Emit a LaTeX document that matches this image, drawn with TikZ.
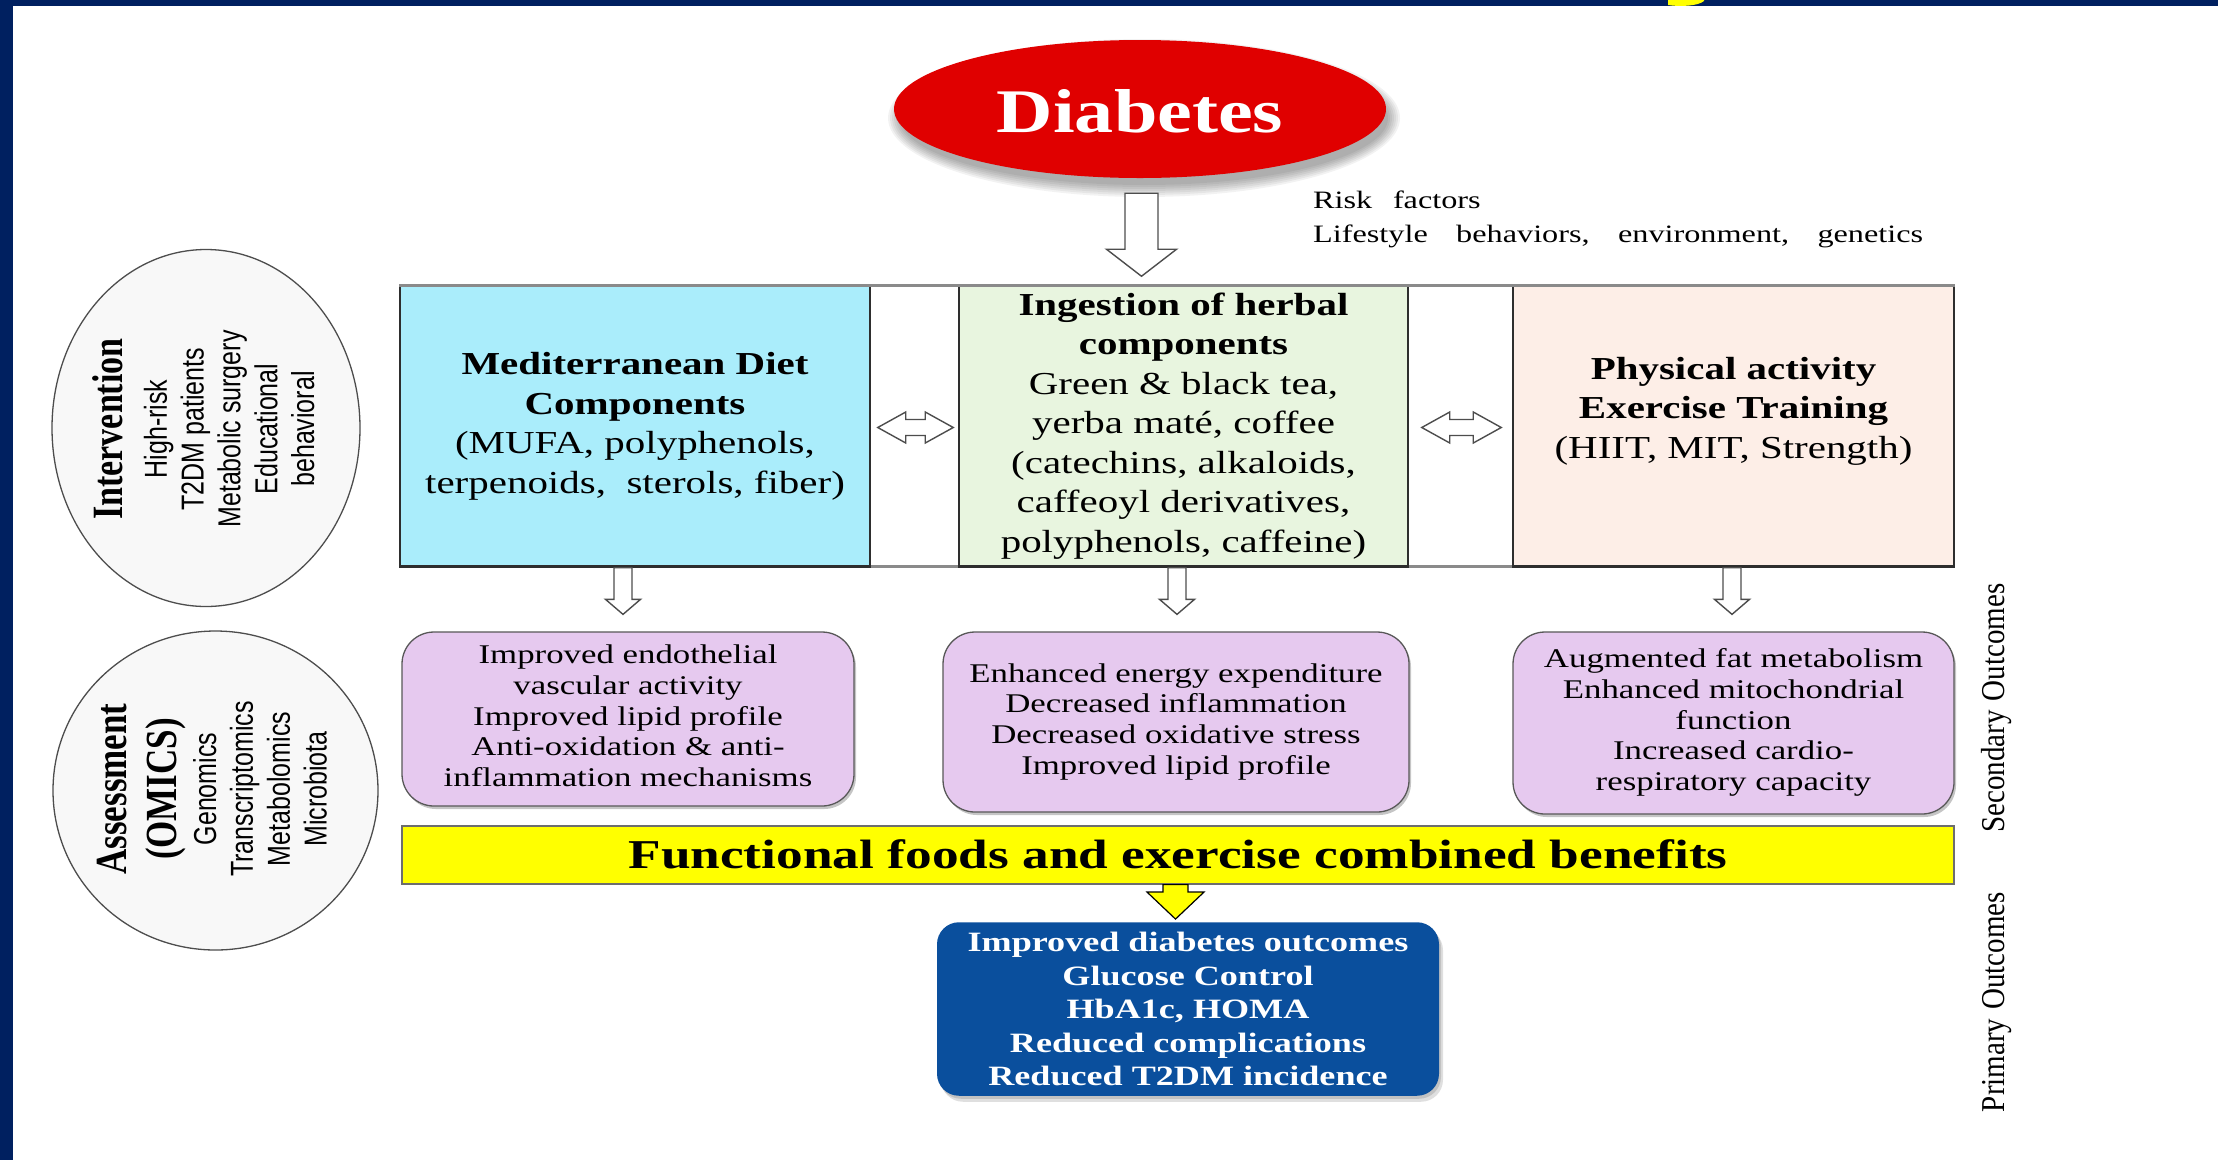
\documentclass[tikz,border=0pt]{standalone}
\usepackage{fontspec}
\newfontfamily\sansf{Liberation Sans}
\newfontfamily\timesf{Liberation Serif}
\newfontfamily\pala{Liberation Serif}
\usetikzlibrary{calc,shapes.geometric,shadows}

\definecolor{navy}{HTML}{002060}
\definecolor{titleyellow}{HTML}{FFFF00}
\definecolor{diabred}{HTML}{E00000}
\definecolor{medblue}{HTML}{AAEDFB}
\definecolor{herbgreen}{HTML}{E8F5DF}
\definecolor{physpeach}{HTML}{FDEEE7}
\definecolor{lilac}{HTML}{E6C9EF}
\definecolor{outblue}{HTML}{0A4F9D}
\definecolor{boxline}{HTML}{2E2E2E}
\definecolor{framegray}{HTML}{8A8A8A}
\definecolor{ovalfill}{HTML}{F8F8F8}

% text blocks widened (or heightened, for turned text) by a fixed factor
\newcommand\hstretch[2][1.28]{\scalebox{#1}[1]{\begin{tabular}{@{}c@{}}#2\end{tabular}}}
\newcommand\vstretch[2][1.27]{\scalebox{1}[#1]{\begin{tabular}{@{}c@{}}#2\end{tabular}}}

% block arrow pointing down: style, top point, tip point, half shaft, half head, head length
\newcommand\blockdown[6][hollowarrow]{%
  \draw[#1] let \p1=(#2), \p2=(#3) in
    (\x1-#4,\y1) -- (\x1+#4,\y1) -- (\x1+#4,\y2+#6) -- (\x1+#5,\y2+#6)
    -- (\x1,\y2) -- (\x1-#5,\y2+#6) -- (\x1-#4,\y2+#6) -- cycle;}

% block arrow with heads at both ends, left tip to right tip
\newcommand\blockboth[2]{%
  \draw[hollowarrow] let \p1=(#1), \p2=(#2) in
    (\x1,\y1) -- (\x1+28pt,\y1+15.5pt) -- (\x1+28pt,\y1+8pt) -- (\x2-28pt,\y1+8pt)
    -- (\x2-28pt,\y1+15.5pt) -- (\x2,\y1) -- (\x2-28pt,\y1-15.5pt) -- (\x2-28pt,\y1-8pt)
    -- (\x1+28pt,\y1-8pt) -- (\x1+28pt,\y1-15.5pt) -- cycle;}

\begin{document}
\begin{tikzpicture}[x=1pt,y=-1pt,
  hollowarrow/.style={draw=boxline!85, fill=white, line width=1.4pt, line join=miter},
  yellowarrow/.style={draw=black, fill=titleyellow, line width=1.2pt, line join=miter},
  topbox/.style={rectangle, draw=boxline, line width=1.5pt, minimum height=280pt, inner sep=0pt,
    font=\pala\fontsize{32}{39.5}\selectfont},
  lilacbox/.style={rectangle, rounded corners=32pt, draw=boxline!80, line width=1.3pt, fill=lilac,
    inner sep=0pt, font=\pala\fontsize{27}{30.6}\selectfont,
    drop shadow={shadow xshift=2pt, shadow yshift=-3pt, opacity=0.45}},
  oval/.style={ellipse, draw=boxline!85, line width=1.3pt, fill=ovalfill, inner sep=0pt},
  ovaltext/.style={rotate=90, inner sep=0pt, font=\sansf\fontsize{25}{29}\selectfont},
  sidelabel/.style={rotate=90, inner sep=0pt, font=\timesf\fontsize{29}{32}\selectfont},
]
\useasboundingbox (0,0) rectangle (2218,1160);
\fill[white] (0,0) rectangle (2218,1160);

% slide frame
\fill[navy] (0,0) rectangle (2218,6);
\fill[navy] (0,0) rectangle (13,1160);
\fill[titleyellow] (1668,0) -- (1668,5) .. controls (1680,7) and (1698,6) .. (1704,1) -- (1704,0) -- cycle;

% Diabetes ellipse with soft shadow
\foreach \k [evaluate=\k as \rx using 244+2*\k, evaluate=\k as \ry using 67+2*\k] in {0,...,6}
  \fill[black, opacity=0.05] (1144,118) ellipse [x radius=\rx pt, y radius=\ry pt];
\node[ellipse, fill=diabred, minimum width=492pt, minimum height=138pt, inner sep=0pt,
  text height=33pt, text depth=0pt,
  text=white, font=\pala\bfseries\fontsize{62}{68}\selectfont] (diab) at (1140,109) {\hstretch[1.26]{Diabetes}};

% risk factors note
\node[anchor=base west, inner sep=0pt, font=\pala\fontsize{25}{34}\selectfont] (risk) at (1313,208)
  {\scalebox{1.29}[1]{\begin{tabular}[t]{@{}l@{}}Risk\hspace{16pt}factors\\
   Lifestyle\hspace{22pt}behaviors,\hspace{22pt}environment,\hspace{22pt}genetics\end{tabular}}};

% three intervention boxes
\node[topbox, fill=medblue, minimum width=470pt] (med) at (635,426)
  {\hstretch{\textbf{Mediterranean Diet}\\ \textbf{Components}\\ (MUFA, polyphenols,\\ terpenoids,\ \ sterols, fiber)}};
\node[topbox, fill=herbgreen, minimum width=449pt] (herb) at (1183.5,426)
  {\hstretch{\textbf{Ingestion of herbal}\\ \textbf{components}\\ Green \& black tea,\\ yerba maté, coffee\\
   (catechins, alkaloids,\\ caffeoyl derivatives,\\ polyphenols, caffeine)}};
\node[topbox, fill=physpeach, minimum width=441pt] (phys) at (1733.5,426) {};
\node[inner sep=0pt, font=\pala\fontsize{32}{39.5}\selectfont] (phystext) at ($(phys.center)+(0,-15)$)
  {\hstretch{\textbf{Physical activity}\\ \textbf{Exercise Training}\\ (HIIT, MIT, Strength)}};

% grey frame joining the three boxes
\draw[framegray, line width=3pt] (med.north west) -- (phys.north east);
\draw[framegray, line width=3pt] (med.south east) -- (herb.south west);
\draw[framegray, line width=3pt] (herb.south east) -- (phys.south west);
\draw[boxline, line width=3pt] (med.south west) -- (med.south east);
\draw[boxline, line width=3pt] (herb.south west) -- (herb.south east);
\draw[boxline, line width=3pt] (phys.south west) -- (phys.south east);

% two-way arrows between the boxes
\blockboth{$(med.east)+(7,1.5)$}{$(herb.west)+(-5,1.5)$}
\blockboth{$(herb.east)+(13,1.5)$}{$(phys.west)+(-11,1.5)$}

% secondary outcome boxes
\node[lilacbox, minimum width=452pt, minimum height=174pt] (pleft) at (628,719)
  {\hstretch[1.29]{Improved endothelial\\ vascular activity\\ Improved lipid profile\\ Anti-oxidation \& anti-\\ inflammation mechanisms}};
\node[lilacbox, minimum width=466pt, minimum height=180pt] (pmid) at (1176,722)
  {\hstretch[1.29]{Enhanced energy expenditure\\ Decreased inflammation\\ Decreased oxidative stress\\ Improved lipid profile}};
\node[lilacbox, minimum width=441pt, minimum height=182pt] (pright) at (1733.5,723)
  {\hstretch[1.29]{Augmented fat metabolism\\ Enhanced mitochondrial\\ function\\ Increased cardio-\\ respiratory capacity}};

% arrows into the diagram
\blockdown{$(diab.south)+(1.5,15)$}{$(diab.south |- herb.north)+(1.5,-9)$}{16.5pt}{35pt}{27pt}
\blockdown{$(pleft.north |- med.south)+(-5,1)$}{$(pleft.north)+(-5,-17)$}{9pt}{17.5pt}{15pt}
\blockdown{$(pmid.north |- herb.south)+(1,1)$}{$(pmid.north)+(1,-17)$}{9pt}{17.5pt}{15pt}
\blockdown{$(pright.north |- phys.south)+(-1.5,1)$}{$(pright.north)+(-1.5,-17)$}{9pt}{17.5pt}{15pt}

% combined benefits banner
\node[rectangle, draw=boxline!70, line width=1.2pt, fill=titleyellow, minimum width=1552pt,
  minimum height=58pt, inner sep=0pt, text height=22pt, text depth=0pt,
  font=\pala\bfseries\fontsize{41}{46}\selectfont] (bench) at (1178,855)
  {\hstretch[1.3]{Functional foods and exercise combined benefits}};

% primary outcome box
\node[rectangle, rounded corners=22pt, fill=outblue, minimum width=502pt, minimum height=172pt,
  inner sep=0pt, text=white, font=\pala\bfseries\fontsize{28}{33.5}\selectfont,
  drop shadow={shadow xshift=4pt, shadow yshift=-6pt, opacity=0.25},
  drop shadow={shadow xshift=2pt, shadow yshift=-3pt, opacity=0.3}] (outc) at (1188,1009)
  {\vbox{\vskip6pt\hbox{\hstretch[1.29]{Improved diabetes outcomes\\ Glucose Control\\ HbA1c, HOMA\\ Reduced complications\\ Reduced T2DM incidence}}}};

\blockdown[yellowarrow]{$(bench.south)+(-2.5,0)$}{$(bench.south |- outc.north)+(-2.5,-3)$}{12.5pt}{28.5pt}{27pt}

% study design ovals
\node[oval, minimum width=308pt, minimum height=357pt] (interv) at (206,428) {};
\node[ovaltext] (intervtext) at ($(interv.center)+(3,1)$)
  {\vstretch{{\pala\bfseries\fontsize{34}{36}\selectfont Intervention}\\[5.6pt]
   High-risk\\ T2DM patients\\ Metabolic surgery\\ Educational\\ behavioral}};
\node[oval, minimum width=325pt, minimum height=319pt] (assess) at (215.5,790.5) {};
\node[ovaltext] (assesstext) at ($(assess.center)+(2,-1.5)$)
  {\vstretch{{\pala\bfseries\fontsize{35}{38}\selectfont Assessment}\\[6pt]
   {\pala\bfseries\fontsize{35}{38}\selectfont (OMICS)}\\[2.5pt]
   Genomics\\ Transcriptomics\\ Metabolomics\\ Microbiota}};

% outcome labels
\node[sidelabel] (seclabel) at (1997,708) {\scalebox{1}[1.15]{Secondary\hspace{9pt}Outcomes}};
\node[sidelabel] (primlabel) at (1997,1002) {\scalebox{1}[1.15]{Primary\hspace{9pt}Outcomes}};
\end{tikzpicture}
\end{document}
